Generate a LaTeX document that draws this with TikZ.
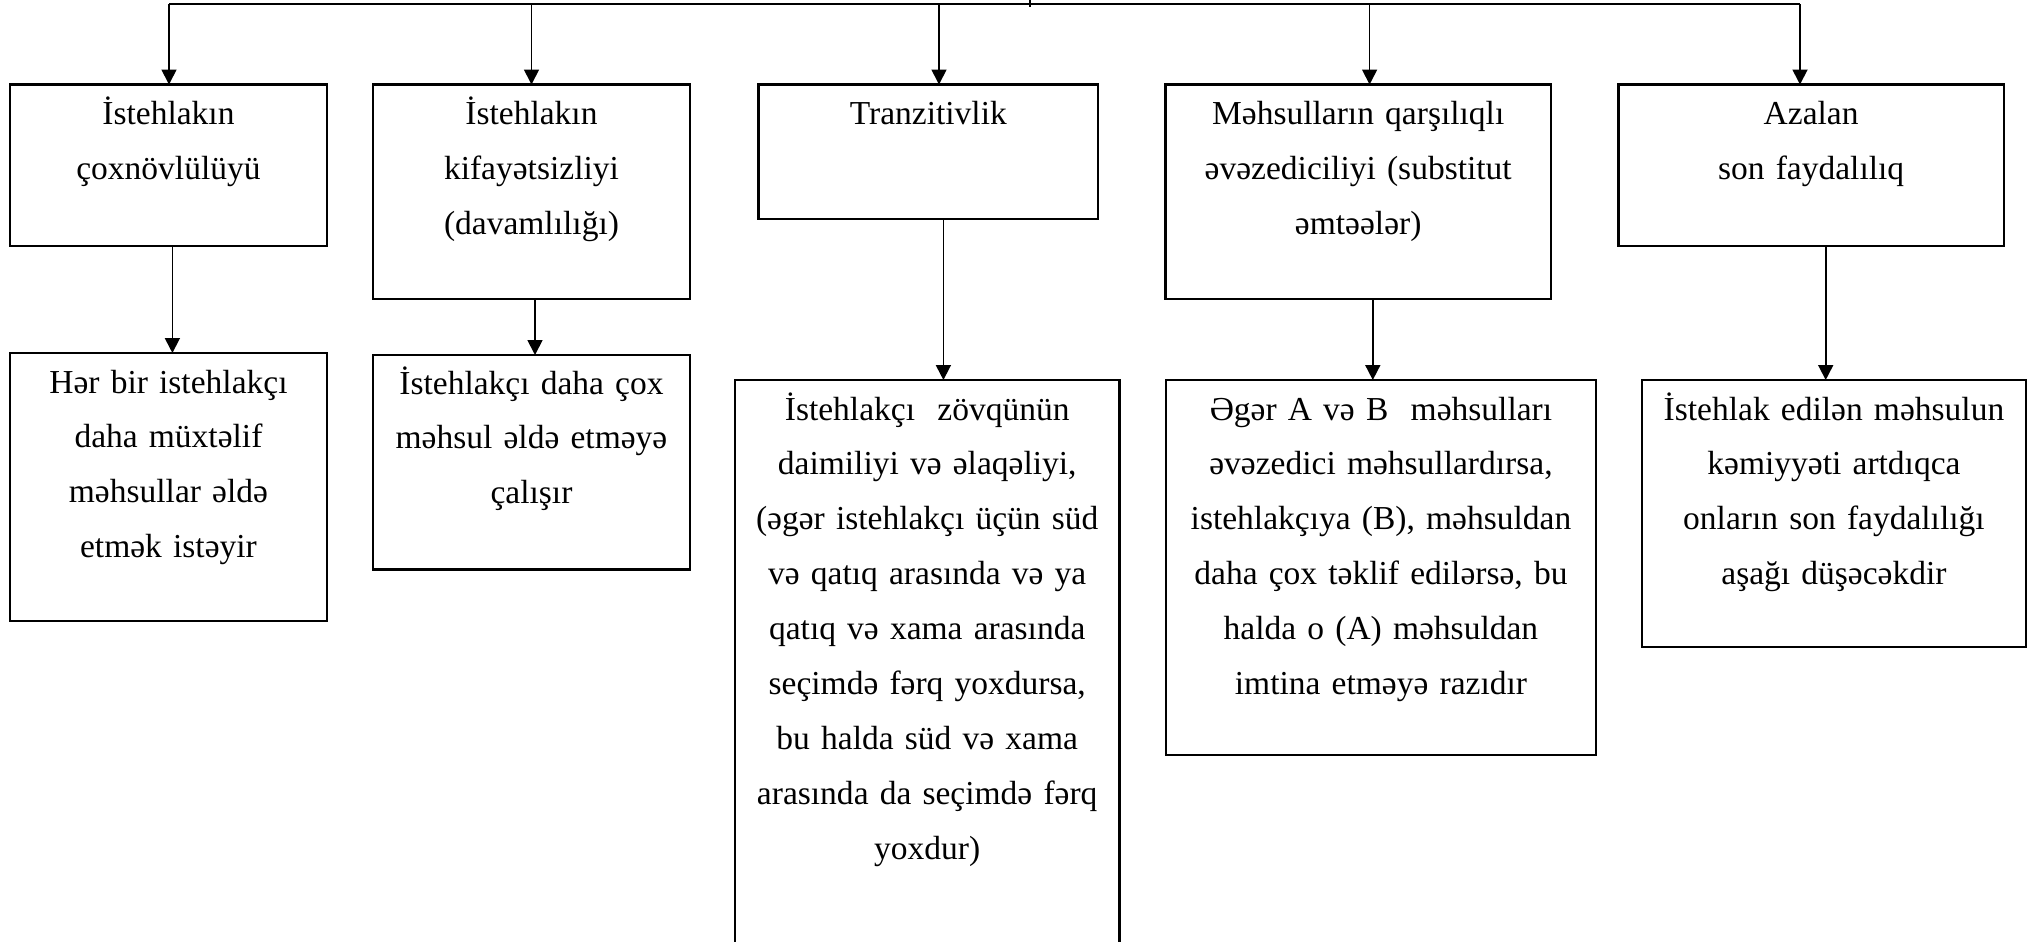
\documentclass[tikz,border=0pt]{standalone}
\usepackage{fontspec}
\setmainfont{Liberation Serif}
\usetikzlibrary{calc,arrows.meta}

\begin{document}
\begin{tikzpicture}[
    x=0.02cm, y=-0.02cm,
    box/.style={draw, line width=1.4pt, inner sep=0pt, outer sep=0pt, anchor=north west,
        align=center, text height=0.81cm, font=\fontsize{19.07pt}{31.3pt}\selectfont},
    link/.style={line width=1pt},
    arr/.style={-{Triangle[length=0.3cm,width=0.3cm]}, line width=1pt}
]
    \useasboundingbox (0,0) rectangle (2039,941);

    % Properties
    \node[box, text width=6.34cm, text depth=2.42cm] (anode) at (10,84.5)
        {İstehlakın\\çoxnövlülüyü};
    \node[box, text width=6.34cm, text depth=3.48cm] (bnode) at (373,84.5)
        {İstehlakın\\kifayətsizliyi\\(davamlılığı)};
    \node[box, text width=6.79cm, text depth=1.88cm] (cnode) at (758.6,84.5)
        {Tranzitivlik};
    \node[box, text width=7.71cm, text depth=3.48cm] (dnode) at (1165.5,84.5)
        {Məhsulların qarşılıqlı\\əvəzediciliyi (substitut\\əmtəələr)};
    \node[box, text width=7.71cm, text depth=2.42cm] (enode) at (1618.4,84.5)
        {Azalan\\son faydalılıq};

    % Explanations
    \node[box, text width=6.34cm, text height=0.80cm, text depth=4.56cm] (adesc) at (10,353)
        {Hər bir istehlakçı\\daha müxtəlif\\məhsullar əldə\\etmək istəyir};
    \node[box, text width=6.34cm, text height=0.78cm, text depth=3.51cm] (bdesc) at (373,355)
        {İstehlakçı daha çox\\məhsul əldə etməyə\\çalışır};
    \node[box, text width=7.69cm, text height=0.80cm, text depth=10.8cm] (cdesc) at (735,380)
        {İstehlakçı~~zövqünün\\daimiliyi və əlaqəliyi,\\(əgər istehlakçı üçün süd\\və qatıq arasında və ya\\qatıq və xama arasında\\seçimdə fərq yoxdursa,\\bu halda süd və xama\\arasında da seçimdə fərq\\yoxdur)};
    \node[box, text width=8.6cm, text height=0.80cm, text depth=6.70cm] (ddesc) at (1166,380)
        {Əgər A və B~~məhsulları\\əvəzedici məhsullardırsa,\\istehlakçıya (B), məhsuldan\\daha çox təklif edilərsə, bu\\halda o (A) məhsuldan\\imtina etməyə razıdır};
    \node[box, text width=7.68cm, text height=0.80cm, text depth=4.54cm] (edesc) at (1642,380)
        {İstehlak edilən məhsulun\\kəmiyyəti artdıqca\\onların son faydalılığı\\aşağı düşəcəkdir};

    % Bus from the parent
    \coordinate (root) at (1030,0);
    \coordinate (busa) at (169,4.3);
    \coordinate (busb) at (531.5,4.3);
    \coordinate (busc) at (939,4.3);
    \coordinate (busd) at (1369.6,4.3);
    \coordinate (buse) at (1800,4.3);

    \draw[link] (busa) -- (buse);
    \draw[link] (root) -- ($(root |- busa)+(0,3)$);

    \draw[arr] (busa) -- (busa |- anode.north);
    \draw[arr] (busb) -- (busb |- bnode.north);
    \draw[arr] (busc) -- (busc |- cnode.north);
    \draw[arr] (busd) -- (busd |- dnode.north);
    \draw[arr] (buse) -- (buse |- enode.north);

    % Property to explanation
    \coordinate (alink) at (172.4,0);
    \coordinate (blink) at (535,0);
    \coordinate (clink) at (943.4,0);
    \coordinate (dlink) at (1372.8,0);
    \coordinate (elink) at (1825.7,0);

    \draw[arr] (anode.south -| alink) -- (adesc.north -| alink);
    \draw[arr] (bnode.south -| blink) -- (bdesc.north -| blink);
    \draw[arr] (cnode.south -| clink) -- (cdesc.north -| clink);
    \draw[arr] (dnode.south -| dlink) -- (ddesc.north -| dlink);
    \draw[arr] (enode.south -| elink) -- (edesc.north -| elink);

\end{tikzpicture}
\end{document}
